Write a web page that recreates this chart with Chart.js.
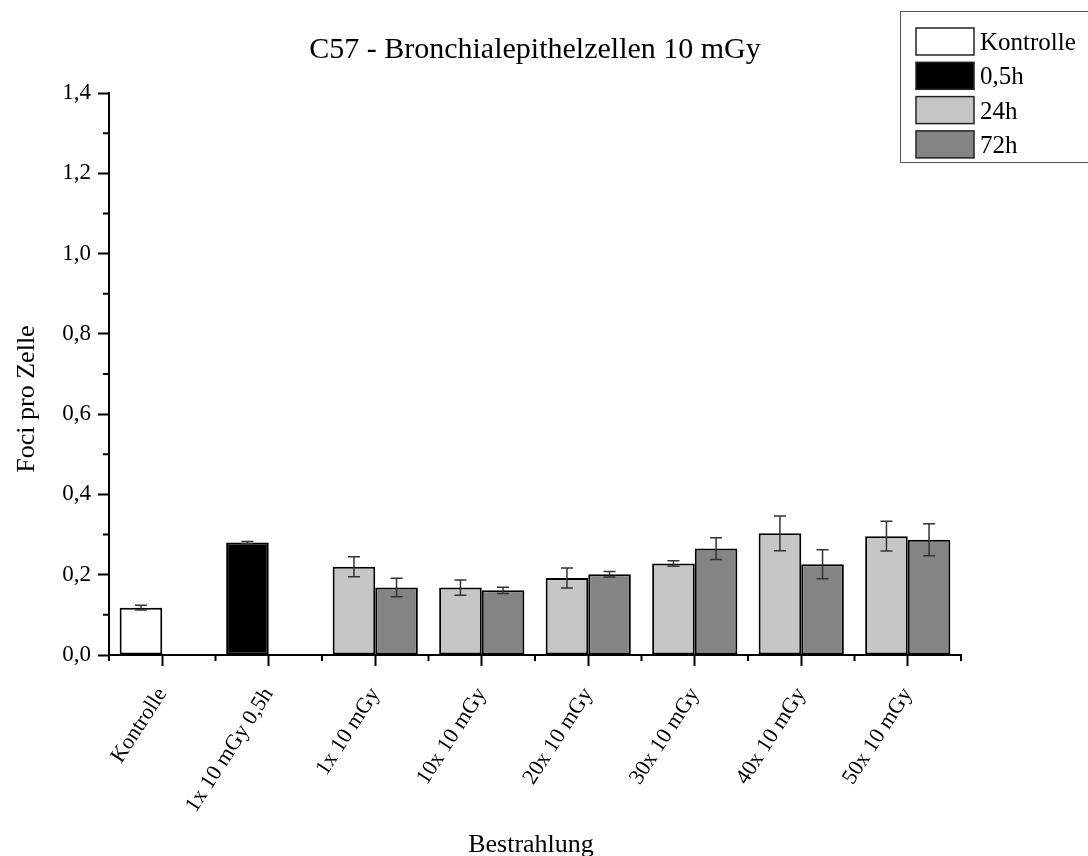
<!DOCTYPE html>
<html>
<head>
<meta charset="utf-8">
<script src="https://cdn.jsdelivr.net/npm/chart.js@4.4.1/dist/chart.umd.min.js"></script>
<style>
  body { margin: 0; background: #fff; }
  #wrap { width: 1088px; height: 856px; }
</style>
</head>
<body>
<div id="wrap"><canvas id="fociChart"></canvas></div>
<script>
// categories on the x axis
const categories = ['Kontrolle', '1x 10 mGy 0,5h', '1x 10 mGy', '10x 10 mGy', '20x 10 mGy', '30x 10 mGy', '40x 10 mGy', '50x 10 mGy'];

// foci per cell
const kontrolle = [0.118, null, null, null, null, null, null, null];
const kontrolleErr = [0.006, null, null, null, null, null, null, null];
const h05 = [null, 0.280, null, null, null, null, null, null];
const h05Err = [null, 0.003, null, null, null, null, null, null];
const h24 = [null, null, 0.220, 0.168, 0.192, 0.228, 0.303, 0.296];
const h24Err = [null, null, 0.025, 0.019, 0.025, 0.007, 0.043, 0.037];
const h72 = [null, null, 0.168, 0.161, 0.201, 0.265, 0.226, 0.287];
const h72Err = [null, null, 0.023, 0.008, 0.007, 0.027, 0.036, 0.040];

const yTicks = [0, 0.2, 0.4, 0.6, 0.8, 1.0, 1.2, 1.4];

const serif = "'Liberation Serif', 'Times New Roman', serif";
Chart.defaults.font.family = serif;
Chart.defaults.color = '#000';

const errors = [kontrolleErr, h05Err, h24Err, h72Err];

// error bars, minor ticks, titles and legend box
const extras = {
    id: 'extras',
    afterDatasetsDraw(chart) {
        const ctx = chart.ctx;
        const y = chart.scales.y;
        ctx.save();
        ctx.strokeStyle = '#333';
        ctx.lineWidth = 1.5;
        chart.data.datasets.forEach((ds, i) => {
            const meta = chart.getDatasetMeta(i);
            meta.data.forEach((bar, j) => {
                const v = ds.data[j];
                const e = errors[i][j];
                if (v == null || e == null) return;
                const top = y.getPixelForValue(v + e);
                const bot = y.getPixelForValue(v - e);
                ctx.beginPath();
                ctx.moveTo(bar.x, top); ctx.lineTo(bar.x, bot);
                ctx.moveTo(bar.x - 6, top); ctx.lineTo(bar.x + 6, top);
                ctx.moveTo(bar.x - 6, bot); ctx.lineTo(bar.x + 6, bot);
                ctx.stroke();
            });
        });
        ctx.restore();
    },
    afterDraw(chart) {
        const ctx = chart.ctx;
        const area = chart.chartArea;
        const x = chart.scales.x;
        const y = chart.scales.y;
        ctx.save();
        // minor ticks
        ctx.strokeStyle = '#000';
        ctx.lineWidth = 2;
        ctx.beginPath();
        for (let k = 0; k < yTicks.length - 1; k++) {
            const py = y.getPixelForValue((yTicks[k] + yTicks[k + 1]) / 2);
            ctx.moveTo(area.left - 6, py); ctx.lineTo(area.left, py);
        }
        for (let k = 0; k <= categories.length; k++) {
            let px;
            if (k === 0) px = area.left;
            else if (k === categories.length) px = area.right;
            else px = (x.getPixelForValue(k - 1) + x.getPixelForValue(k)) / 2;
            ctx.moveTo(px, area.bottom); ctx.lineTo(px, area.bottom + 6);
        }
        ctx.stroke();

        // title
        ctx.fillStyle = '#000';
        ctx.font = '30px ' + serif;
        ctx.textAlign = 'center';
        ctx.textBaseline = 'alphabetic';
        ctx.fillText('C57 - Bronchialepithelzellen 10 mGy', (area.left + area.right) / 2, 58);

        // axis titles
        ctx.font = '26px ' + serif;
        ctx.fillText('Bestrahlung', (area.left + area.right) / 2 - 4, 852);
        ctx.save();
        ctx.translate(34, 399);
        ctx.rotate(-Math.PI / 2);
        ctx.fillText('Foci pro Zelle', 0, 0);
        ctx.restore();

        // legend box
        ctx.lineWidth = 1;
        ctx.strokeStyle = '#555';
        ctx.strokeRect(900.5, 11.5, 200, 151);
        ctx.font = '25px ' + serif;
        ctx.textAlign = 'left';
        chart.data.datasets.forEach((ds, i) => {
            const top = 28 + i * 34.3;
            ctx.fillStyle = ds.backgroundColor;
            ctx.fillRect(916, top, 58, 27);
            ctx.strokeStyle = '#222';
            ctx.lineWidth = 1.5;
            ctx.strokeRect(916, top, 58, 27);
            ctx.fillStyle = '#000';
            ctx.fillText(ds.label, 980, top + 22);
        });
        ctx.restore();
    }
};

const barStyle = { borderColor: '#000', borderWidth: 2, borderSkipped: false, categoryPercentage: 0.8, barPercentage: 1.0 };

new Chart(document.getElementById('fociChart'), {
    type: 'bar',
    data: {
        labels: categories,
        datasets: [
            { label: 'Kontrolle', data: kontrolle, backgroundColor: '#ffffff', stack: 'a', ...barStyle },
            { label: '0,5h', data: h05, backgroundColor: '#000000', stack: 'a', ...barStyle },
            { label: '24h', data: h24, backgroundColor: '#c6c6c6', stack: 'a', ...barStyle },
            { label: '72h', data: h72, backgroundColor: '#848484', stack: 'b', ...barStyle }
        ]
    },
    options: {
        responsive: true,
        maintainAspectRatio: false,
        animation: false,
        layout: { padding: { left: 0, right: 127, top: 93, bottom: 0 } },
        plugins: {
            legend: { display: false },
            title: { display: false },
            tooltip: { enabled: false }
        },
        scales: {
            x: {
                grid: { offset: false, drawOnChartArea: false, tickLength: 11, tickWidth: 2, tickColor: '#000' },
                border: { display: true, color: '#000', width: 2 },
                ticks: { minRotation: 57, maxRotation: 57, padding: 17, font: { size: 22 } },
                afterFit(scale) { scale.height = 201; }
            },
            y: {
                min: 0,
                max: 1.4,
                grid: { drawOnChartArea: false, tickLength: 11, tickWidth: 2, tickColor: '#000' },
                border: { display: true, color: '#000', width: 2 },
                ticks: {
                    stepSize: 0.2,
                    padding: 7,
                    font: { size: 23 },
                    callback: v => v.toFixed(1).replace('.', ',')
                },
                afterFit(scale) { scale.width = 109; }
            }
        }
    },
    plugins: [extras]
});
</script>
</body>
</html>
